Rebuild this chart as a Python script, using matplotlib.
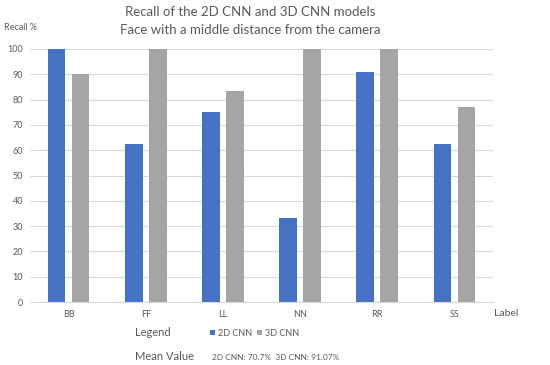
import matplotlib
matplotlib.use("Agg")
import matplotlib.pyplot as plt
import numpy as np

labels = ["BB", "FF", "LL", "NN", "RR", "SS"]
cnn2d = [100, 62.5, 75, 33.3, 90.9, 62.5]
cnn3d = [90, 100, 83.3, 100, 100, 77]
yticks = [0, 10, 20, 30, 40, 50, 60, 70, 80, 90, 100]

blue = "#4472C4"
grey = "#A5A5A5"
txt = "#595959"

plt.rcParams['font.family'] = ['Lato', 'DejaVu Sans']

W, H = 550, 365
fig = plt.figure(figsize=(W / 100, H / 100), dpi=100)
ax = fig.add_axes([30 / W, (H - 302) / H, 463 / W, 253 / H])

x = np.arange(len(labels))
bw = 0.23
ax.bar(x - 0.155, cnn2d, bw, color=blue, label="2D CNN")
ax.bar(x + 0.155, cnn3d, bw, color=grey, label="3D CNN")

ax.set_xlim(-0.5, len(labels) - 0.5)
ax.set_ylim(0, 100)
ax.set_yticks(yticks)
ax.set_xticks(x)
ax.set_xticklabels(labels)
ax.yaxis.grid(True, color="#D9D9D9", linewidth=0.8)
ax.set_axisbelow(True)
for s in ["top", "right", "left"]:
    ax.spines[s].set_visible(False)
ax.spines["bottom"].set_color("#D9D9D9")
ax.tick_params(length=0, labelsize=6.5, colors=txt)
ax.tick_params(axis="x", pad=6)
ax.tick_params(axis="y", pad=5)


def px(xp, yp):
    return xp / W, 1 - yp / H


fig.text(*px(250, 12), "Recall of the 2D CNN and 3D CNN models", ha="center",
         va="center", fontsize=9.5, color=txt)
fig.text(*px(250, 30), "Face with a middle distance from the camera", ha="center",
         va="center", fontsize=9.5, color=txt)
fig.text(*px(4, 28), "Recall %", ha="left", va="center", fontsize=6.5, color=txt)
fig.text(*px(494, 313), "Label", ha="left", va="center", fontsize=7.5, color=txt)
fig.text(*px(135, 333), "Legend", ha="left", va="center", fontsize=8, color=txt)
fig.text(*px(135, 356), "Mean Value", ha="left", va="center", fontsize=8, color=txt)
fig.text(*px(212, 357), "2D CNN: 70.7%  3D CNN: 91.07%", ha="left", va="center",
         fontsize=6, color=txt)

leg = fig.legend(loc="center left", bbox_to_anchor=px(202, 333), ncol=2,
                 frameon=False, fontsize=6.5, handlelength=0.55, handleheight=0.55,
                 handletextpad=0.3, columnspacing=0.6, labelcolor=txt)

fig.savefig("out.png", dpi=100)
